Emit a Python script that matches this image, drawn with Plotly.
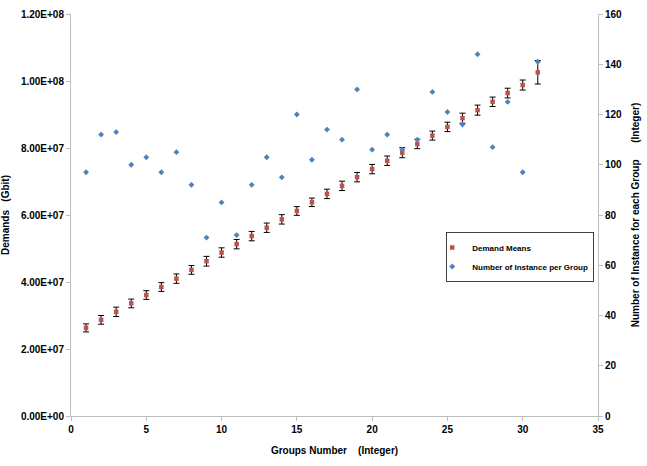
import plotly.graph_objects as go

groups = list(range(1, 32))
demand_means = [2.63e7, 2.87e7, 3.11e7, 3.36e7, 3.61e7, 3.85e7, 4.10e7, 4.36e7, 4.62e7, 4.88e7,
                5.13e7, 5.37e7, 5.62e7, 5.87e7, 6.12e7, 6.38e7, 6.63e7, 6.87e7, 7.13e7, 7.37e7,
                7.62e7, 7.86e7, 8.12e7, 8.37e7, 8.63e7, 8.89e7, 9.13e7, 9.38e7, 9.64e7, 9.88e7,
                1.026e8]
demand_err = [1.2e6, 1.3e6, 1.4e6, 1.3e6, 1.3e6, 1.3e6, 1.4e6, 1.3e6, 1.45e6, 1.4e6,
              1.4e6, 1.4e6, 1.4e6, 1.4e6, 1.3e6, 1.25e6, 1.4e6, 1.4e6, 1.4e6, 1.4e6,
              1.4e6, 1.5e6, 1.4e6, 1.35e6, 1.4e6, 1.5e6, 1.5e6, 1.4e6, 1.45e6, 1.5e6,
              3.5e6]
instances = [97, 112, 113, 100, 103, 97, 105, 92, 71, 85,
             72, 92, 103, 95, 120, 102, 114, 110, 130, 106,
             112, 106, 110, 129, 121, 116, 144, 107, 125, 97,
             141]

left_ticks = [0, 2e7, 4e7, 6e7, 8e7, 1e8, 1.2e8]
left_labels = ["0.00E+00", "2.00E+07", "4.00E+07", "6.00E+07", "8.00E+07", "1.00E+08", "1.20E+08"]

font_family = "Liberation Sans, Arial, sans-serif"

fig = go.Figure()
fig.add_trace(go.Scatter(
    x=groups, y=demand_means, mode="markers", name="Demand Means",
    marker=dict(symbol="square", size=4.5, color="#C0504D"),
    error_y=dict(type="data", array=demand_err, visible=True, color="#000000",
                 thickness=1, width=3),
    yaxis="y",
))
fig.add_trace(go.Scatter(
    x=groups, y=instances, mode="markers", name="Number of Instance per Group",
    marker=dict(symbol="diamond", size=4.5, color="#4F81BD"),
    yaxis="y2",
))

axis_common = dict(showgrid=False, zeroline=False, showline=True, linecolor="#BFBFBF",
                   linewidth=1, ticks="outside", tickcolor="#BFBFBF", ticklen=4,
                   automargin=False,
                   tickfont=dict(family=font_family, size=10, color="#000000", weight="bold"))

fig.update_layout(
    width=647, height=466,
    margin=dict(l=71, r=49, t=14, b=50),
    plot_bgcolor="white", paper_bgcolor="white",
    font=dict(family=font_family, color="#000000"),
    xaxis=dict(range=[0, 35], tickvals=[0, 5, 10, 15, 20, 25, 30, 35],
               title=dict(text="Groups Number    (Integer)", standoff=12,
                          font=dict(family=font_family, size=10, weight="bold")),
               **axis_common),
    yaxis=dict(range=[0, 1.2e8], tickvals=left_ticks, ticktext=left_labels,
               title=dict(text="Demands   (Gbit)", standoff=10,
                          font=dict(family=font_family, size=10, weight="bold")),
               **axis_common),
    yaxis2=dict(range=[0, 160], tickvals=[0, 20, 40, 60, 80, 100, 120, 140, 160],
                overlaying="y", side="right",
                title=dict(text="Number of Instance for each Group      (Integer)", standoff=10,
                           font=dict(family=font_family, size=10, weight="bold")),
                **axis_common),
    legend=dict(x=0.712, y=0.3955, xanchor="left", yanchor="middle",
                bgcolor="white", bordercolor="#404040", borderwidth=1,
                font=dict(family=font_family, size=8, weight="bold"),
                tracegroupgap=0, indentation=-15, itemwidth=30),
    showlegend=True,
)

fig.write_html("out.html")
